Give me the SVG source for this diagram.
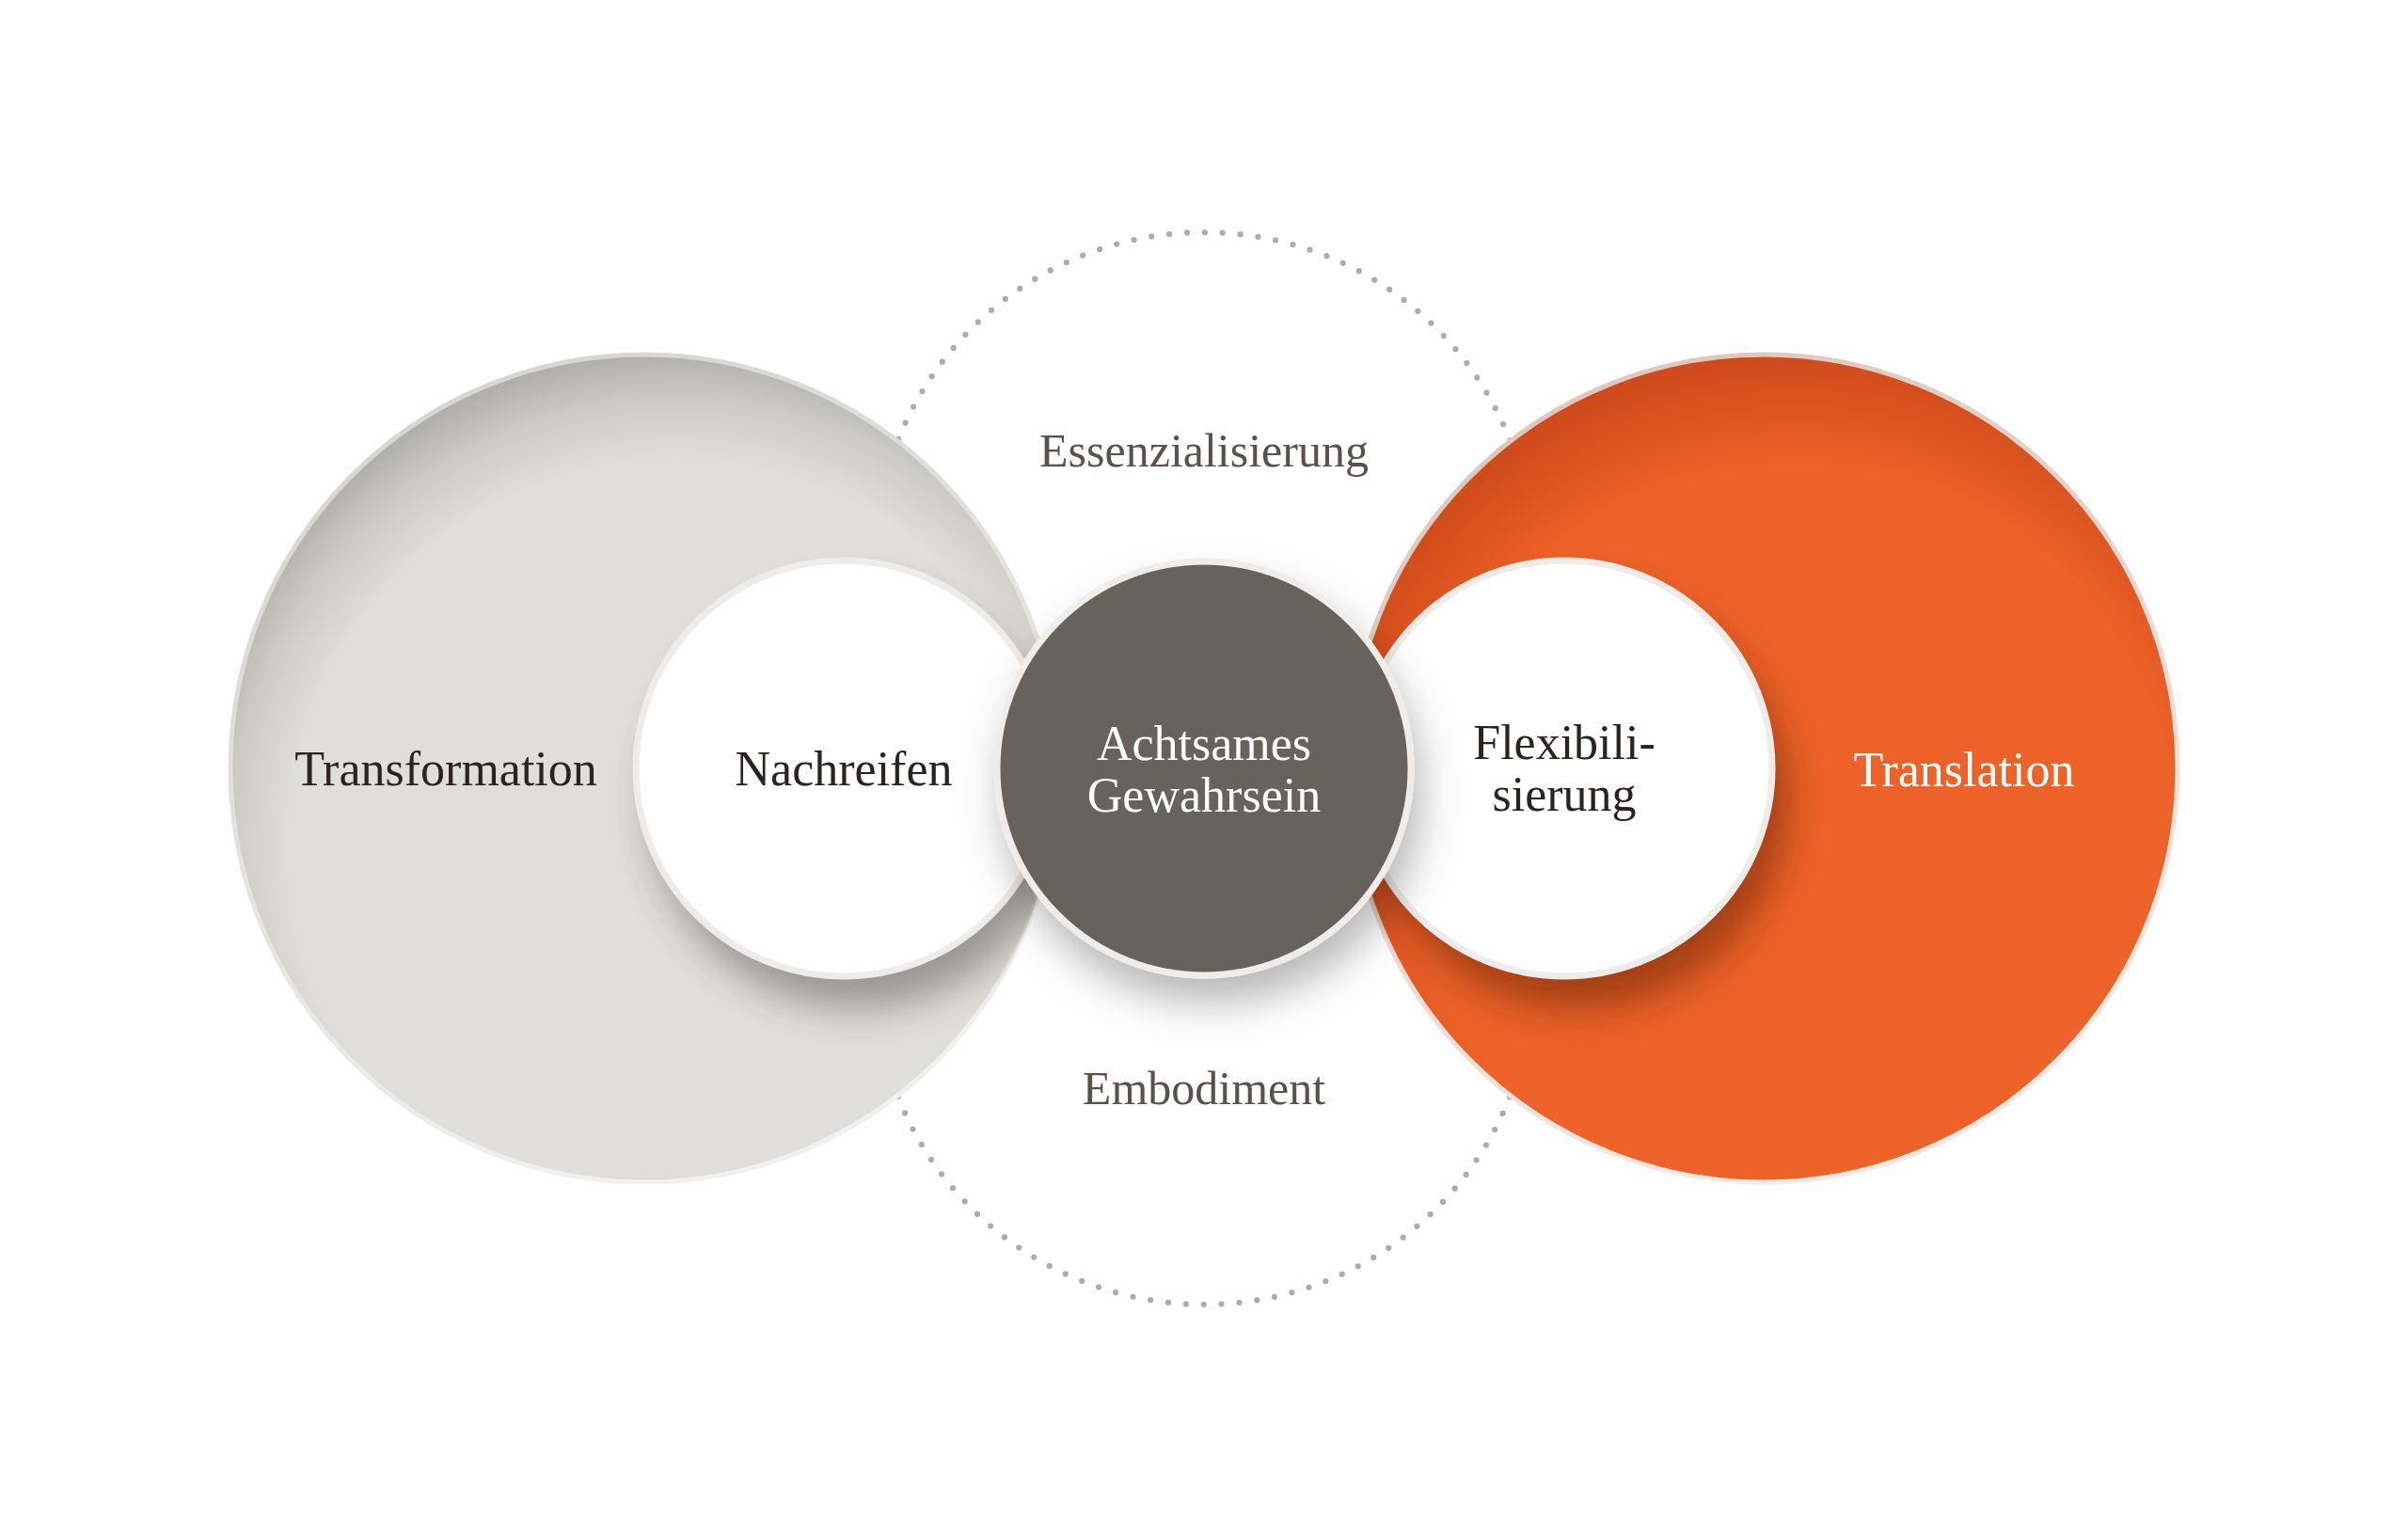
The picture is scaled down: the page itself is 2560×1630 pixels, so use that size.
<svg xmlns="http://www.w3.org/2000/svg" width="2560" height="1630" viewBox="0 0 2560 1630">
  <style>
    .lbl { font-family: "Liberation Serif", "DejaVu Serif", serif; font-size: 52px; text-anchor: middle; }
    .dark { fill: #2b2321; }
    .light { fill: #ffffff; }
    .sub { font-family: "Liberation Serif", "DejaVu Serif", serif; font-size: 50px; text-anchor: middle; fill: #5a514d; }
    .dots { fill: none; stroke: #aeacaa; stroke-width: 6.2; stroke-linecap: round; stroke-dasharray: 0 18.96; }
    .inner { fill: #ffffff; stroke: #efebe8; stroke-width: 7; }
  </style>
  <defs>
    <radialGradient id="gGray" gradientUnits="userSpaceOnUse" cx="720" cy="900" r="540">
      <stop offset="0.76" stop-color="#dfdeda"/>
      <stop offset="0.88" stop-color="#cbcac5"/>
      <stop offset="0.97" stop-color="#b1b0aa"/>
    </radialGradient>
    <radialGradient id="gOrange" gradientUnits="userSpaceOnUse" cx="1910" cy="900" r="540">
      <stop offset="0.75" stop-color="#ec6229"/>
      <stop offset="0.87" stop-color="#dc541f"/>
      <stop offset="0.97" stop-color="#cf4b1c"/>
    </radialGradient>
    <linearGradient id="rimGray" x1="0" y1="0" x2="0.4" y2="1">
      <stop offset="0" stop-color="#d3d2cf"/>
      <stop offset="1" stop-color="#f1f0ee"/>
    </linearGradient>
    <linearGradient id="rimOrange" x1="0" y1="0" x2="0.4" y2="1">
      <stop offset="0" stop-color="#dcc2b4"/>
      <stop offset="1" stop-color="#f3e9e5"/>
    </linearGradient>
    <clipPath id="clipGray"><circle cx="685" cy="817" r="440"/></clipPath>
    <clipPath id="clipOrange"><circle cx="1875" cy="817" r="440"/></clipPath>
    <filter id="blur" x="-30%" y="-30%" width="160%" height="160%">
      <feGaussianBlur stdDeviation="20"/>
    </filter>
    <filter id="dropDark" x="-30%" y="-30%" width="160%" height="170%">
      <feGaussianBlur in="SourceAlpha" stdDeviation="22"/>
      <feOffset dx="8" dy="26" result="b"/>
      <feFlood flood-color="#000000" flood-opacity="0.28"/>
      <feComposite in2="b" operator="in" result="s"/>
      <feMerge><feMergeNode in="s"/><feMergeNode in="SourceGraphic"/></feMerge>
    </filter>
  </defs>

  <rect width="2560" height="1630" fill="#ffffff"/>

  <g id="connectors">
    <circle class="dots" cx="1280" cy="597" r="350"/>
    <circle class="dots" cx="1280" cy="1037" r="350"/>
  </g>

  <g id="node-transformation">
    <circle cx="685" cy="817" r="440" fill="url(#gGray)" stroke="url(#rimGray)" stroke-width="5"/>
    <g clip-path="url(#clipGray)">
      <circle cx="912" cy="850" r="222" fill="#3a342e" opacity="0.42" filter="url(#blur)"/>
    </g>
    <text class="lbl dark" x="474" y="835">Transformation</text>
  </g>

  <g id="node-translation">
    <circle cx="1875" cy="817" r="440" fill="url(#gOrange)" stroke="url(#rimOrange)" stroke-width="5"/>
    <g clip-path="url(#clipOrange)">
      <circle cx="1678" cy="850" r="222" fill="#5a1e05" opacity="0.5" filter="url(#blur)"/>
    </g>
    <text class="lbl light" x="2088" y="836">Translation</text>
  </g>

  <g id="node-nachreifen">
    <circle class="inner" cx="897" cy="817" r="221"/>
    <text class="lbl dark" x="897" y="835">Nachreifen</text>
  </g>

  <g id="node-flexibilisierung">
    <circle class="inner" cx="1663" cy="817" r="221"/>
    <text class="lbl dark" x="1663" y="807">Flexibili-</text>
    <text class="lbl dark" x="1663" y="862">sierung</text>
  </g>

  <g id="node-achtsames-gewahrsein">
    <circle cx="1280" cy="817" r="220" fill="#67625c" stroke="#efece9" stroke-width="7" filter="url(#dropDark)"/>
    <text class="lbl light" x="1280" y="808">Achtsames</text>
    <text class="lbl light" x="1280" y="863">Gewahrsein</text>
  </g>

  <g id="label-essenzialisierung">
    <text class="sub" x="1280" y="496">Essenzialisierung</text>
  </g>
  <g id="label-embodiment">
    <text class="sub" x="1280" y="1174">Embodiment</text>
  </g>
</svg>
